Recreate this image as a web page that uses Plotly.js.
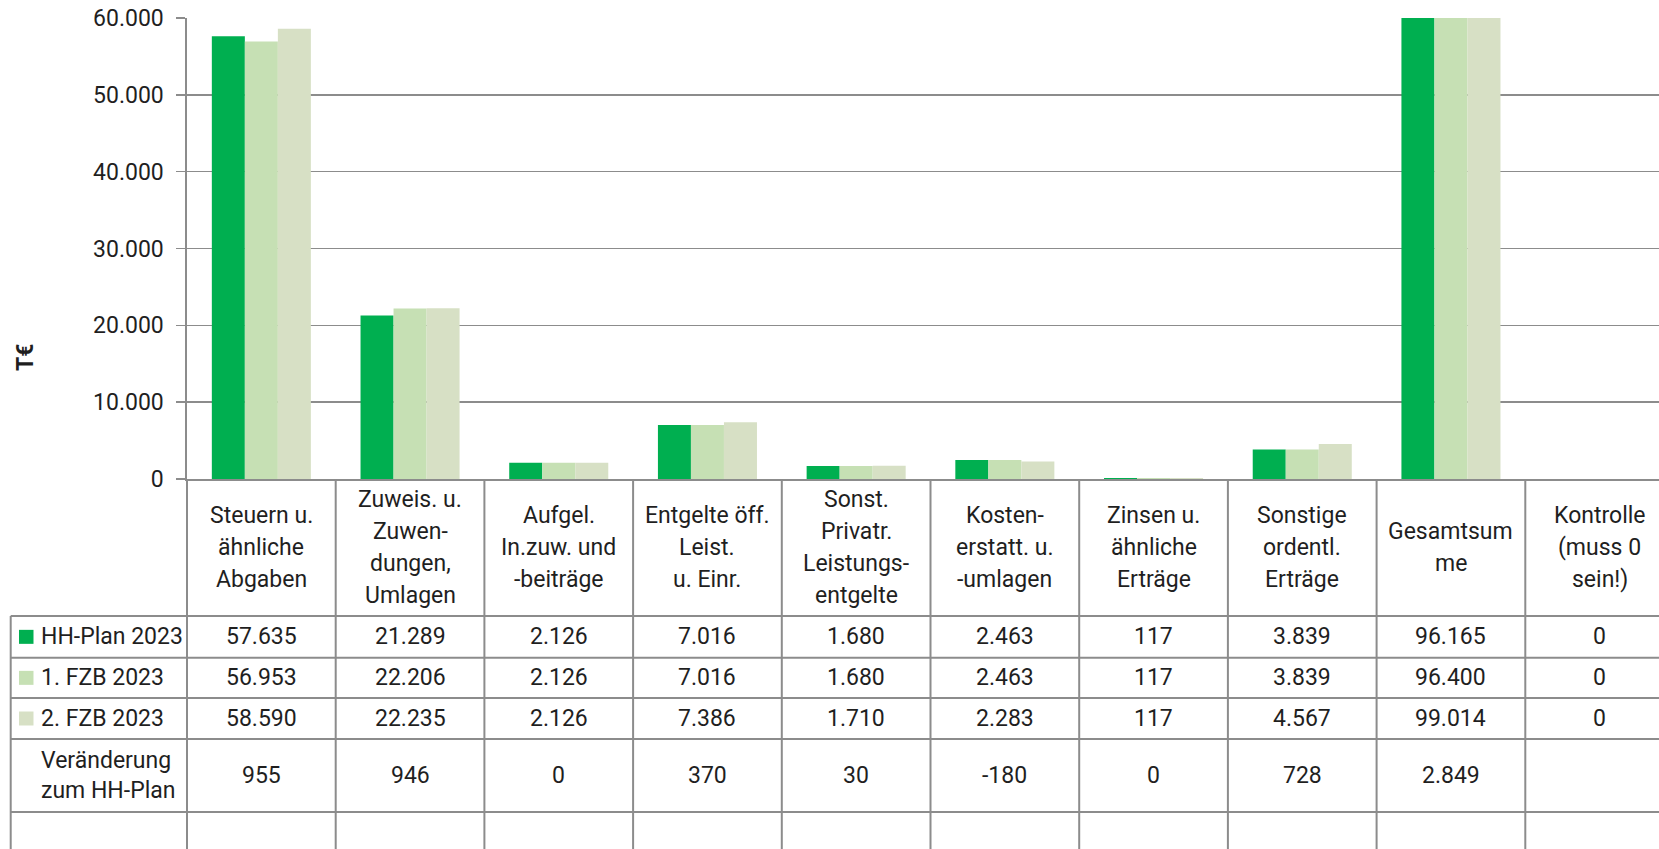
<!DOCTYPE html>
<html><head><meta charset="utf-8">
<script src="https://cdn.plot.ly/plotly-3.0.1.min.js"></script>
<style>html,body{margin:0;padding:0;background:#fff;}#chart{width:1659px;height:849px;}</style>
</head><body><div id="chart"></div>
<script>
const categories = [
  "Steuern u.<br>ähnliche<br>Abgaben",
  "Zuweis. u.<br>Zuwen-<br>dungen,<br>Umlagen",
  "Aufgel.<br>In.zuw. und<br>-beiträge",
  "Entgelte öff.<br>Leist.<br>u. Einr.",
  "Sonst.<br>Privatr.<br>Leistungs-<br>entgelte",
  "Kosten-<br>erstatt. u.<br>-umlagen",
  "Zinsen u.<br>ähnliche<br>Erträge",
  "Sonstige<br>ordentl.<br>Erträge",
  "Gesamtsum<br>me",
  "Kontrolle<br>(muss 0<br>sein!)"
];
const seriesNames = ["HH-Plan 2023", "1. FZB 2023", "2. FZB 2023"];
const hhPlan2023 = [57635, 21289, 2126, 7016, 1680, 2463, 117, 3839, 96165, 0];
const fzb1_2023  = [56953, 22206, 2126, 7016, 1680, 2463, 117, 3839, 96400, 0];
const fzb2_2023  = [58590, 22235, 2126, 7386, 1710, 2283, 117, 4567, 99014, 0];
const changeLabel = "Veränderung<br>zum HH-Plan";
const changeVsPlan = [955, 946, 0, 370, 30, -180, 0, 728, 2849, null];
const yTickValues = [0, 10000, 20000, 30000, 40000, 50000, 60000];

const colors = ["#00AF50", "#C6E0B4", "#D7E0C5"];
const FONT = "Roboto, 'Liberation Sans', sans-serif";
const TXT = "#1f1f1f";
const GRID = "#8c8c8c";

const W = 1659, H = 849;
const mL = 187, mT = 18, plotH = 461, plotW = W - mL;
const colW = 148.7;
const nShown = plotW / colW;
const px2x = px => (px - mL) / plotW;
const py2y = py => (mT + plotH - py) / plotH;

function fmt(v) {
  if (v === null || v === undefined) return "";
  const neg = v < 0; let s = String(Math.abs(Math.round(v)));
  s = s.replace(/\B(?=(\d{3})+(?!\d))/g, ".");
  return (neg ? "-" : "") + s;
}

const idx = categories.map((c, i) => i);
const seriesData = [hhPlan2023, fzb1_2023, fzb2_2023];
const traces = seriesData.map((d, k) => ({
  type: "bar", x: idx, y: d, name: seriesNames[k],
  marker: {color: colors[k], line: {width: 0}},
  hoverinfo: "skip", cliponaxis: true
}));

const shapes = [];
const annotations = [];
const lineStyle = {color: GRID, width: 2};

// table row boundaries (px)
const headerTop = mT + plotH;      // 479
const headerBottom = 616;
const rowBounds = [616, 657.7, 698, 739, 812];
const legendLeft = 10.7;

rowBounds.forEach(py => shapes.push({type: "line", xref: "paper", yref: "paper",
  x0: px2x(legendLeft), x1: 1, y0: py2y(py), y1: py2y(py), line: lineStyle}));
// vertical lines
shapes.push({type: "line", xref: "paper", yref: "paper", x0: px2x(legendLeft), x1: px2x(legendLeft),
  y0: py2y(headerBottom), y1: py2y(H + 5), line: lineStyle});
for (let k = 0; k <= categories.length; k++) {
  const px = mL + k * colW;
  if (px > W) break;
  shapes.push({type: "line", xref: "paper", yref: "paper", x0: px2x(px), x1: px2x(px),
    y0: py2y(headerTop), y1: py2y(H + 5), line: lineStyle});
}

// header labels
const headerCenter = (headerTop + headerBottom) / 2;
const lineGap = 31.7;
categories.forEach((c, i) => {
  const lines = c.split("<br>");
  lines.forEach((t, j) => {
    const py = headerCenter + (j - (lines.length - 1) / 2) * lineGap;
    annotations.push({xref: "x", yref: "paper", x: i, y: py2y(py), text: t, showarrow: false,
      xanchor: "center", yanchor: "middle", font: {family: FONT, size: 23, color: TXT}});
  });
});

// data rows
const rowCenters = [];
for (let r = 0; r < rowBounds.length - 1; r++) rowCenters.push((rowBounds[r] + rowBounds[r + 1]) / 2);
seriesData.forEach((d, k) => {
  const cy = rowCenters[k];
  shapes.push({type: "rect", xref: "paper", yref: "paper", x0: px2x(19), x1: px2x(33.5),
    y0: py2y(cy - 7), y1: py2y(cy + 7), fillcolor: colors[k], line: {width: 0}});
  annotations.push({xref: "paper", yref: "paper", x: px2x(39), y: py2y(cy), text: seriesNames[k],
    showarrow: false, xanchor: "left", yanchor: "middle", font: {family: FONT, size: 23, color: TXT}});
  d.forEach((v, i) => annotations.push({xref: "x", yref: "paper", x: i, y: py2y(cy), text: fmt(v),
    showarrow: false, xanchor: "center", yanchor: "middle", font: {family: FONT, size: 23, color: TXT}}));
});
// change row
const cyc = rowCenters[3];
changeLabel.split("<br>").forEach((t, j) => annotations.push({xref: "paper", yref: "paper", x: px2x(39),
  y: py2y(cyc + (j - 0.5) * 30), text: t, showarrow: false, xanchor: "left", yanchor: "middle",
  font: {family: FONT, size: 23, color: TXT}}));
changeVsPlan.forEach((v, i) => annotations.push({xref: "x", yref: "paper", x: i, y: py2y(cyc), text: fmt(v),
  showarrow: false, xanchor: "center", yanchor: "middle", font: {family: FONT, size: 23, color: TXT}}));

// y-axis title
annotations.push({xref: "paper", yref: "paper", x: px2x(25), y: py2y(358), text: "<b>T€</b>", textangle: -90,
  showarrow: false, xanchor: "center", yanchor: "middle", font: {family: FONT, size: 23, color: TXT}});

const layout = {
  width: W, height: H,
  margin: {l: mL, r: 0, t: mT, b: H - mT - plotH, pad: 0},
  paper_bgcolor: "#fff", plot_bgcolor: "#fff",
  separators: ",.",
  showlegend: false,
  barmode: "group", bargap: 0.334, bargroupgap: 0,
  font: {family: FONT, color: TXT},
  xaxis: {type: "linear", range: [-0.5, -0.5 + nShown], showticklabels: false, showgrid: false,
    zeroline: false, showline: true, linecolor: GRID, linewidth: 2, ticks: "", fixedrange: true},
  yaxis: {range: [0, 60000], tickvals: yTickValues, tickformat: ",d", showgrid: true, gridcolor: GRID,
    gridwidth: 1.6, zeroline: false, showline: true, linecolor: GRID, linewidth: 1.6,
    ticks: "outside", ticklen: 9, tickcolor: GRID, tickwidth: 1.6, ticklabelstandoff: 8,
    tickfont: {family: FONT, size: 23, color: TXT}, fixedrange: true},
  shapes: shapes, annotations: annotations
};
Plotly.newPlot("chart", traces, layout, {displayModeBar: false, staticPlot: true});
</script></body></html>
